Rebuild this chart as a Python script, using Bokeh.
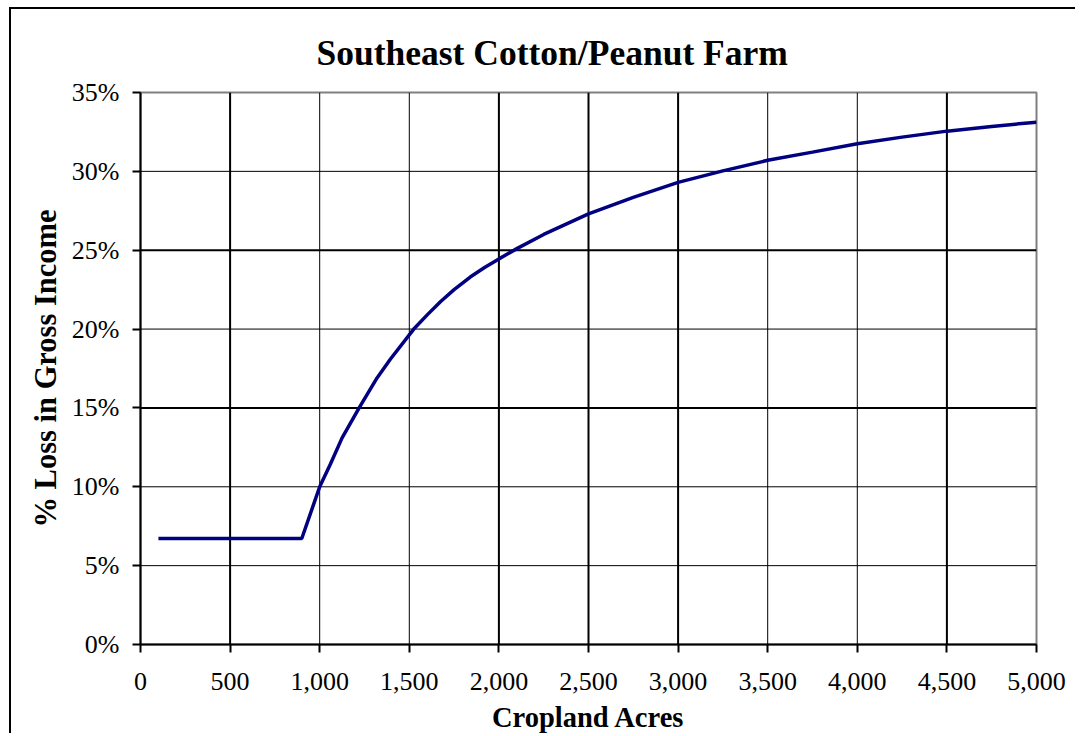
from bokeh.plotting import figure
from bokeh.models import Range1d, FixedTicker, NumeralTickFormatter, Span
from bokeh.embed import file_html
from bokeh.resources import INLINE

# ---- data ----
acres = [100, 900, 1000, 1060, 1125, 1220, 1320, 1395, 1525, 1600, 1675, 1750, 1840, 1920,
         2000, 2100, 2250, 2500, 2750, 3000, 3250, 3500, 3750, 4000, 4250, 4500, 4750, 5000]
loss_pct = [6.72, 6.72, 10.0, 11.45, 13.1, 15.0, 16.9, 18.1, 20.0, 20.9, 21.75, 22.5, 23.3, 23.9,
            24.45, 25.1, 26.0, 27.3, 28.35, 29.3, 30.03, 30.7, 31.22, 31.75, 32.17, 32.55, 32.85, 33.12]

x_ticks = [0, 500, 1000, 1500, 2000, 2500, 3000, 3500, 4000, 4500, 5000]
y_ticks = [0, 5, 10, 15, 20, 25, 30, 35]
y_tick_labels = ["0%", "5%", "10%", "15%", "20%", "25%", "30%", "35%"]

# grid line widths (rendering style of the reference)
x_grid_widths = [None, 2, 1, 1, 2, 2, 2, 1, 1, 2, None]
y_grid_widths = [None, 1, 1, 2, 1, 2, 1, None]

FONT = "Liberation Serif"

p = figure(width=1066, height=726, output_backend="svg", toolbar_location=None,
           x_range=Range1d(0, 5000), y_range=Range1d(0, 35),
           min_border_left=129, min_border_right=41, min_border_top=83, min_border_bottom=91)

# place the canvas and draw the chart-area border (left and top edges) like the reference
p.styles = {"margin-left": "11px", "margin-top": "9px",
            "box-shadow": "-2px -2px 0px 0px black"}

p.title.text = "Southeast Cotton/Peanut Farm"
p.title.text_font = FONT
p.title.text_font_size = "35.5px"
p.title.text_font_style = "bold"
p.title.text_color = "black"
p.title.align = "left"
p.title.offset = 176
p.title.standoff = 40

p.xgrid.visible = False
p.ygrid.visible = False
p.outline_line_color = "#808080"
p.outline_line_width = 2
p.background_fill_color = "white"
p.border_fill_color = "white"

for v, w in zip(x_ticks, x_grid_widths):
    if w:
        p.add_layout(Span(location=v, dimension="height", line_color="black",
                          line_width=w, level="underlay"))
for v, w in zip(y_ticks, y_grid_widths):
    if w:
        p.add_layout(Span(location=v, dimension="width", line_color="black",
                          line_width=w, level="underlay"))

p.line(acres, loss_pct, line_color="#000080", line_width=3.5)

for ax in (p.xaxis[0], p.yaxis[0]):
    ax.axis_line_color = "black"
    ax.axis_line_width = 2
    ax.major_tick_line_color = "black"
    ax.major_tick_line_width = 2
    ax.major_tick_out = 8
    ax.major_tick_in = 0
    ax.minor_tick_line_color = None
    ax.major_label_text_font = FONT
    ax.major_label_text_font_size = "26px"
    ax.major_label_text_color = "black"
    ax.axis_label_text_font = FONT
    ax.axis_label_text_font_style = "bold"
    ax.axis_label_text_color = "black"

p.xaxis.ticker = FixedTicker(ticks=x_ticks)
p.xaxis.formatter = NumeralTickFormatter(format="0,0")
p.xaxis.axis_label = "Cropland Acres"
p.xaxis.axis_label_text_font_size = "28.5px"
p.xaxis.major_label_standoff = 20
p.xaxis.axis_label_standoff = 9

p.yaxis.ticker = FixedTicker(ticks=y_ticks)
p.yaxis.major_label_overrides = {t: s for t, s in zip(y_ticks, y_tick_labels)}
p.yaxis.axis_label = "% Loss in Gross Income"
p.yaxis.axis_label_text_font_size = "30.5px"
p.yaxis.major_label_standoff = 13
p.yaxis.axis_label_standoff = 6

open("out.html", "w").write(file_html(p, INLINE))
